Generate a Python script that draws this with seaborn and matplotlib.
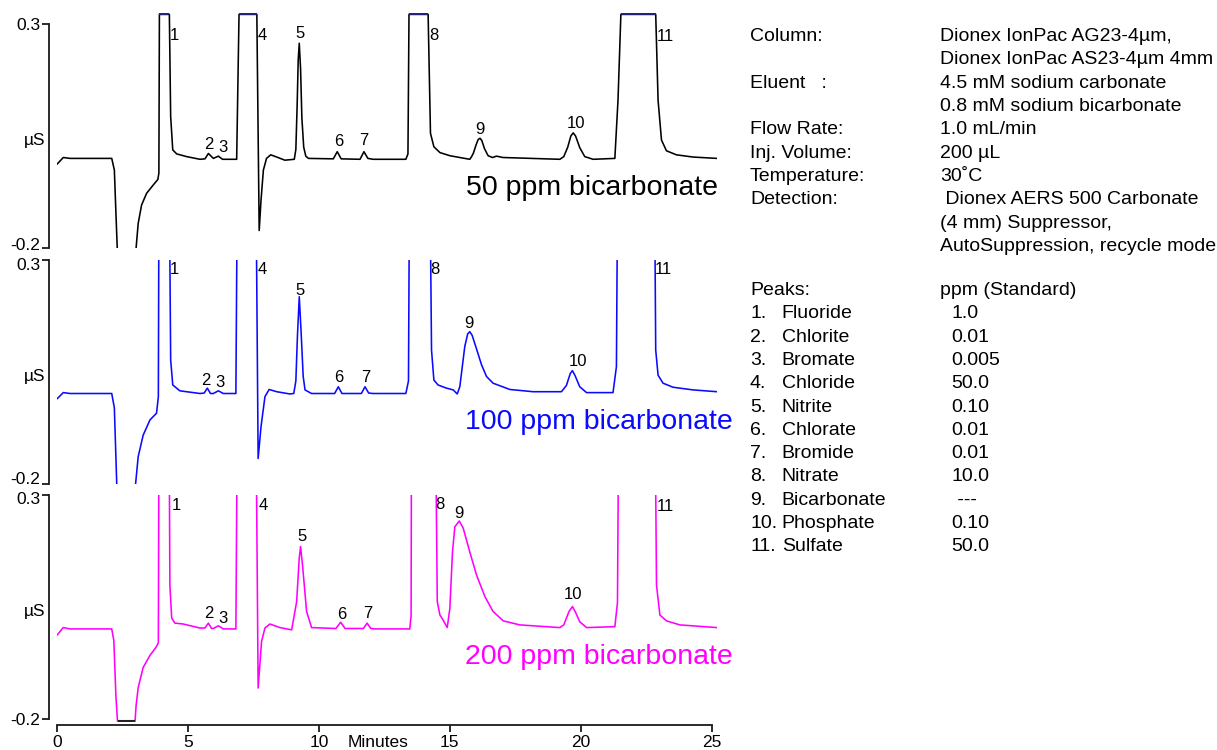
import numpy as np
import pandas as pd
import matplotlib.pyplot as plt
import matplotlib.transforms as mtransforms
import seaborn as sns

# chromatogram traces (minutes, µS)
t_50 = [0.00, 0.24, 0.50, 2.09, 2.19, 2.25, 2.30, 2.36, 2.96, 3.02, 3.10, 3.23, 3.42, 3.68,
        3.85, 3.89, 3.91, 4.29, 4.34, 4.42, 4.57, 4.95, 5.46, 5.65, 5.78, 5.97, 6.16, 6.32,
        6.86, 6.95, 7.63, 7.72, 7.79, 7.88, 8.00, 8.16, 8.39, 8.70, 9.06, 9.12, 9.17, 9.21,
        9.25, 9.30, 9.35, 9.42, 9.50, 9.60, 10.55, 10.70, 10.85, 11.57, 11.72, 11.87, 12.07,
        13.32, 13.40, 13.44, 14.17, 14.26, 14.39, 14.62, 15.00, 15.76, 15.83, 15.90, 16.00,
        16.08, 16.15, 16.22, 16.32, 16.46, 16.63, 16.78, 17.03, 19.20, 19.35, 19.50, 19.62,
        19.71, 19.80, 19.96, 20.15, 20.47, 21.30, 21.42, 21.53, 22.86, 22.95, 23.08, 23.27,
        23.65, 24.29, 25.20]
uS_50 = [-0.013, 0.002, 0.000, 0.000, -0.026, -0.122, -0.200, -0.300, -0.300, -0.200, -0.145,
         -0.104, -0.078, -0.059, -0.047, -0.033, 0.3215, 0.3215, 0.093, 0.019, 0.010, 0.004,
         -0.002, -0.001, 0.011, 0.000, 0.005, -0.002, -0.002, 0.3215, 0.3215, -0.161, -0.093,
         -0.026, 0.000, 0.008, 0.003, -0.004, -0.002, 0.020, 0.120, 0.220, 0.257, 0.200,
         0.090, 0.025, 0.005, 0.000, -0.001, 0.015, -0.001, -0.002, 0.015, 0.000, -0.002,
         -0.002, 0.010, 0.3215, 0.3215, 0.056, 0.026, 0.013, 0.006, -0.002, 0.004, 0.012,
         0.030, 0.042, 0.045, 0.040, 0.022, 0.006, 0.002, 0.005, 0.002, -0.002, 0.004, 0.025,
         0.050, 0.057, 0.050, 0.024, 0.004, -0.002, 0.000, 0.130, 0.3215, 0.3215, 0.130,
         0.041, 0.017, 0.008, 0.003, 0.000]

t_100 = [0.00, 0.24, 0.50, 2.09, 2.19, 2.28, 2.34, 2.96, 3.00, 3.10, 3.29, 3.55, 3.80, 3.87,
         3.90, 4.27, 4.34, 4.42, 4.69, 5.46, 5.62, 5.74, 5.86, 5.97, 6.16, 6.35, 6.83, 6.90,
         7.58, 7.68, 7.79, 7.94, 8.10, 8.39, 8.89, 9.04, 9.12, 9.18, 9.25, 9.32, 9.40, 9.47,
         9.72, 10.60, 10.74, 10.88, 11.62, 11.76, 11.90, 12.07, 13.32, 13.42, 13.47, 14.22,
         14.30, 14.39, 14.55, 14.87, 15.13, 15.28, 15.38, 15.57, 15.68, 15.76, 15.85, 15.95,
         16.21, 16.40, 16.65, 17.29, 18.18, 19.26, 19.45, 19.60, 19.68, 19.78, 19.96, 20.22,
         21.23, 21.36, 21.42, 22.80, 22.86, 22.95, 23.14, 23.52, 24.29, 25.20]
uS_100 = [-0.010, 0.004, 0.002, 0.002, -0.030, -0.198, -0.300, -0.300, -0.200, -0.139, -0.091,
          -0.057, -0.042, -0.005, 0.600, 0.600, 0.077, 0.021, 0.008, 0.002, 0.003, 0.014,
          0.002, 0.002, 0.008, 0.002, 0.002, 0.600, 0.600, -0.143, -0.072, -0.005, 0.011,
          0.006, 0.001, 0.002, 0.030, 0.130, 0.218, 0.140, 0.040, 0.010, 0.002, 0.002, 0.017,
          0.002, 0.002, 0.017, 0.003, 0.002, 0.002, 0.030, 0.600, 0.600, 0.099, 0.032, 0.021,
          0.014, 0.010, 0.001, 0.017, 0.107, 0.135, 0.140, 0.132, 0.114, 0.066, 0.040, 0.025,
          0.011, 0.006, 0.006, 0.020, 0.047, 0.053, 0.042, 0.017, 0.004, 0.004, 0.062, 0.600,
          0.600, 0.099, 0.043, 0.025, 0.016, 0.010, 0.006]

t_200 = [0.00, 0.24, 0.50, 2.09, 2.17, 2.25, 2.31, 2.98, 3.02, 3.10, 3.29, 3.55, 3.78, 3.87,
         3.90, 4.27, 4.31, 4.38, 4.50, 4.82, 5.46, 5.65, 5.78, 5.90, 5.97, 6.16, 6.35, 6.83,
         6.90, 7.58, 7.68, 7.81, 7.94, 8.13, 8.51, 8.96, 9.15, 9.25, 9.30, 9.38, 9.53, 9.72,
         10.65, 10.83, 11.00, 11.70, 11.84, 11.98, 12.14, 13.47, 13.52, 13.54, 14.43, 14.52,
         14.62, 14.74, 14.90, 15.00, 15.10, 15.19, 15.36, 15.51, 15.76, 16.02, 16.34, 16.65,
         17.04, 17.67, 19.20, 19.35, 19.55, 19.68, 19.80, 19.96, 20.22, 21.30, 21.40, 21.46,
         22.82, 22.89, 23.02, 23.27, 23.78, 25.20]
uS_200 = [-0.013, 0.004, 0.001, 0.001, -0.025, -0.150, -0.205, -0.205, -0.170, -0.130, -0.085,
          -0.058, -0.040, -0.030, 0.600, 0.600, 0.099, 0.025, 0.014, 0.012, 0.003, 0.003,
          0.014, 0.002, 0.002, 0.008, 0.001, 0.001, 0.600, 0.600, -0.131, -0.027, 0.003,
          0.012, 0.004, -0.001, 0.062, 0.160, 0.185, 0.140, 0.040, 0.004, 0.002, 0.016, 0.002,
          0.002, 0.014, 0.002, 0.001, 0.001, 0.030, 0.600, 0.600, 0.062, 0.032, 0.021, 0.004,
          0.047, 0.173, 0.229, 0.242, 0.226, 0.173, 0.121, 0.073, 0.040, 0.019, 0.010, 0.004,
          0.010, 0.040, 0.051, 0.038, 0.017, 0.004, 0.006, 0.060, 0.600, 0.600, 0.099, 0.032,
          0.019, 0.010, 0.004]

# off-scale plateaus drawn darker in the original
caps_50 = [(3.91, 4.29), (6.95, 7.63), (13.44, 14.17), (21.53, 22.86)]
caps_200 = [(2.31, 2.98)]

peak_ids = ['1', '2', '3', '4', '5', '6', '7', '8', '9', '10', '11']
lab_t_50 = [4.47, 5.81, 6.32, 7.85, 9.27, 10.76, 11.72, 14.39, 16.15, 19.83, 23.24]
lab_v_50 = [0.275, 0.032, 0.025, 0.275, 0.279, 0.037, 0.041, 0.275, 0.065, 0.077, 0.273]
lab_t_100 = [4.47, 5.69, 6.22, 7.85, 9.27, 10.76, 11.78, 14.43, 15.73, 19.90, 23.14]
lab_v_100 = [0.278, 0.032, 0.026, 0.278, 0.231, 0.037, 0.037, 0.279, 0.159, 0.073, 0.279]
lab_t_200 = [4.54, 5.81, 6.32, 7.87, 9.34, 10.87, 11.88, 14.60, 15.36, 19.70, 23.24]
lab_v_200 = [0.276, 0.036, 0.025, 0.276, 0.207, 0.034, 0.036, 0.278, 0.259, 0.077, 0.274]

x_ticks = [0, 5, 10, 15, 20, 25]

cond_labels = ['Column:', '', 'Eluent   :', '', 'Flow Rate:', 'Inj. Volume:',
               'Temperature:', 'Detection:', '', '']
cond_values = ['Dionex IonPac AG23-4µm,', 'Dionex IonPac AS23-4µm 4mm',
               '4.5 mM sodium carbonate', '0.8 mM sodium bicarbonate', '1.0 mL/min',
               '200 µL', '30˚C', ' Dionex AERS 500 Carbonate', '(4 mm) Suppressor,',
               'AutoSuppression, recycle mode']
peak_names = ['Fluoride', 'Chlorite', 'Bromate', 'Chloride', 'Nitrite', 'Chlorate',
              'Bromide', 'Nitrate', 'Bicarbonate', 'Phosphate', 'Sulfate']
peak_ppm = ['1.0', '0.01', '0.005', '50.0', '0.10', '0.01', '0.01', '10.0', ' ---',
            '0.10', '50.0']

sns.set_style('white')
plt.rcParams['font.family'] = ['Liberation Sans', 'DejaVu Sans']
plt.rcParams['text.color'] = 'black'
plt.rcParams['xtick.labelcolor'] = 'black'
plt.rcParams['ytick.labelcolor'] = 'black'

W, H = 1217, 750
fig = plt.figure(figsize=(W / 100, H / 100), dpi=100)


def make_ax(py_top, py_bot):
    return fig.add_axes([57 / W, 1 - py_bot / H, 660 / W, (py_bot - py_top) / H])


panels = [
    dict(t=t_50, v=uS_50, color='black', name='50 ppm bicarbonate', py=(12.8, 248),
         ylim=(-0.2, 0.325), name_xy=(1.0015, 0.255), lt=lab_t_50, lv=lab_v_50,
         caps=caps_50, cap_lvl=0.3215, cap_col='#23237a', shift=(3, 0)),
    dict(t=t_100, v=uS_100, color='#0a0aff', name='100 ppm bicarbonate', py=(260, 484),
         ylim=(-0.2, 0.3), name_xy=(1.024, 0.277), lt=lab_t_100, lv=lab_v_100,
         caps=[], cap_lvl=0, cap_col='k', shift=(4, -3)),
    dict(t=t_200, v=uS_200, color='#ff00ff', name='200 ppm bicarbonate', py=(495, 722.1),
         ylim=(-0.207, 0.3), name_xy=(1.024, 0.287), lt=lab_t_200, lv=lab_v_200,
         caps=caps_200, cap_lvl=-0.205, cap_col='#222222', shift=(0, -2)),
]

for i, p in enumerate(panels):
    ax = make_ax(*p['py'])
    df = pd.DataFrame({'min': p['t'], 'uS': p['v']})
    sns.lineplot(data=df, x='min', y='uS', ax=ax, color=p['color'], lw=1.15,
                 estimator=None, sort=False)
    for a, b in p['caps']:
        ax.plot([a, b], [p['cap_lvl'], p['cap_lvl']], color=p['cap_col'], lw=1.5,
                solid_capstyle='butt')
    ax.set_xlim(0, 25.2)
    ax.set_ylim(*p['ylim'])
    ax.set_xlabel('')
    ax.set_ylabel('')
    for s in ['top', 'right']:
        ax.spines[s].set_visible(False)
    ax.spines['left'].set_position(('outward', 6))
    ax.spines['left'].set_bounds(-0.2, 0.3)
    ax.spines['left'].set_color('#1a1a1a')
    ax.spines['left'].set_linewidth(1.3)
    ax.set_yticks([-0.2, 0.3])
    ax.set_yticklabels(['-0.2', '0.3'])
    ax.tick_params(axis='y', left=True, length=5, width=1.3, color='#1a1a1a',
                   labelsize=12.5, pad=1)
    # nudge the end labels apart where panels meet
    for lbl, dy in zip(ax.get_yticklabels(), p['shift']):
        off = mtransforms.ScaledTranslation(0, dy / 72, fig.dpi_scale_trans)
        lbl.set_transform(lbl.get_transform() + off)
    ax.text(-0.018, 0.04, 'µS', transform=ax.get_yaxis_transform(), ha='right',
            va='center', fontsize=12.5)
    for lab, tt, vv in zip(peak_ids, p['lt'], p['lv']):
        ax.text(tt, vv, lab, ha='center', va='center', fontsize=12)
    ax.text(p['name_xy'][0], p['name_xy'][1], p['name'], transform=ax.transAxes,
            ha='right', va='center', fontsize=20.5, color=p['color'])
    if i < 2:
        ax.spines['bottom'].set_visible(False)
        ax.set_xticks([])
    else:
        ax.spines['bottom'].set_position(('outward', 2))
        ax.spines['bottom'].set_bounds(0, 25)
        ax.spines['bottom'].set_color('#1a1a1a')
        ax.spines['bottom'].set_linewidth(1.3)
        ax.set_xticks(x_ticks)
        ax.set_xticklabels([str(x) for x in x_ticks])
        ax.tick_params(axis='x', bottom=True, length=5, width=1.3, color='#1a1a1a',
                       labelsize=12.5, pad=2)
        ax.text(12.25, -0.088, 'Minutes', transform=ax.get_xaxis_transform(),
                ha='center', va='center', fontsize=12.5)

# method conditions block
fs = 14
for k, (lab, val) in enumerate(zip(cond_labels, cond_values)):
    y = 1 - (36.7 + 23.3 * k) / H
    if lab:
        fig.text(750 / W, y, lab, ha='left', va='center', fontsize=fs)
    fig.text(940 / W, y, val, ha='left', va='center', fontsize=fs)

y0 = 290.7
fig.text(750 / W, 1 - y0 / H, 'Peaks:', ha='left', va='center', fontsize=fs)
fig.text(940 / W, 1 - y0 / H, 'ppm (Standard)', ha='left', va='center', fontsize=fs)
for k, (nm, ppm) in enumerate(zip(peak_names, peak_ppm)):
    y = 1 - (y0 + 23.27 * (k + 1)) / H
    fig.text(750 / W, y, f'{k + 1}.', ha='left', va='center', fontsize=fs)
    fig.text(781.7 / W, y, nm, ha='left', va='center', fontsize=fs)
    fig.text(951.7 / W, y, ppm, ha='left', va='center', fontsize=fs)

fig.savefig('out.png', dpi=100)
